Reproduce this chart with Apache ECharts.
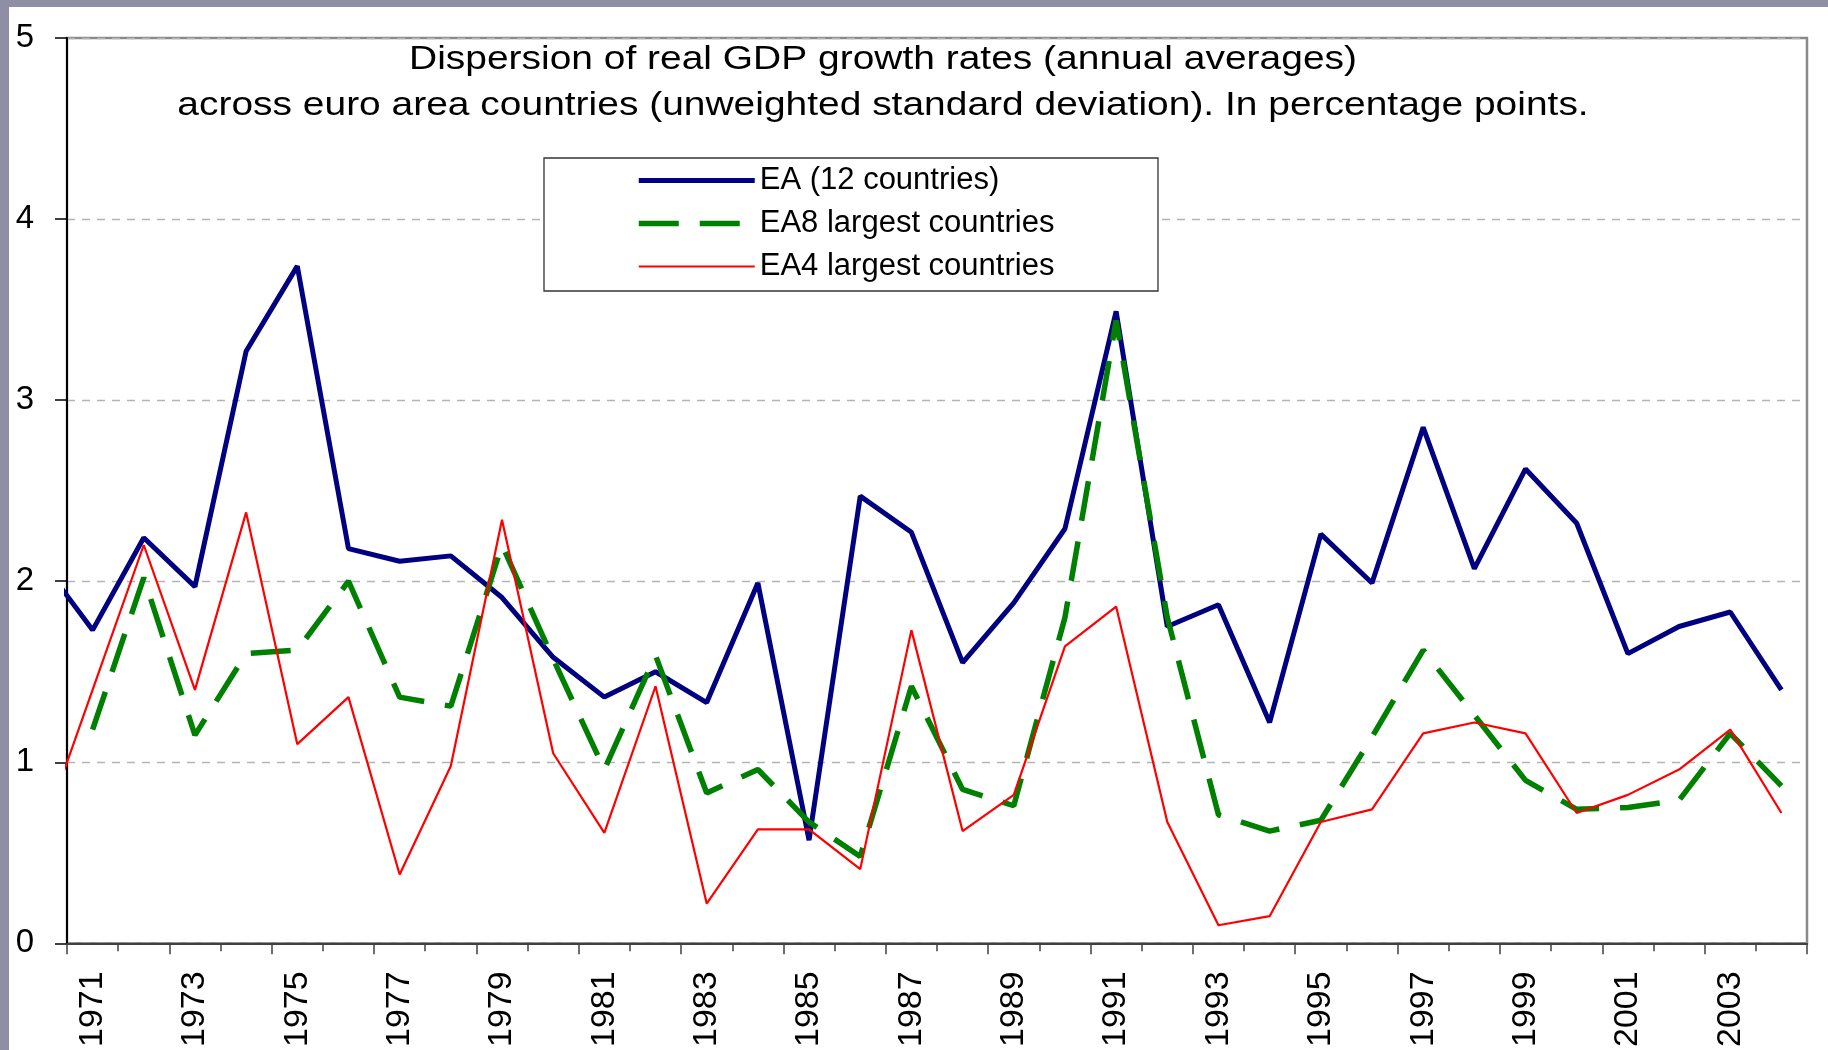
<!DOCTYPE html>
<html>
<head>
<meta charset="utf-8">
<script src="https://cdn.jsdelivr.net/npm/echarts@6/dist/echarts.min.js"></script>
<style>
  html, body { margin: 0; padding: 0; background: #8e8ea4; overflow: hidden; }
  #wrap { position: relative; width: 1828px; height: 1050px; }
  #paper { position: absolute; left: 9px; top: 7px; right: 0; bottom: 0; background: #fff; }
  #chart { position: absolute; left: 0; top: 0; width: 1828px; height: 1050px; }
</style>
</head>
<body>
<div id="wrap">
  <div id="paper"></div>
  <div id="chart"></div>
</div>
<script>
// years of the data (1970 sits just left of the plot and is clipped)
const years = [1970, 1971, 1972, 1973, 1974, 1975, 1976, 1977, 1978, 1979,
  1980, 1981, 1982, 1983, 1984, 1985, 1986, 1987, 1988, 1989,
  1990, 1991, 1992, 1993, 1994, 1995, 1996, 1997, 1998, 1999,
  2000, 2001, 2002, 2003, 2004]
// category labels on the axis
const yearLabels = years.slice(1).map(String)

const ea12 = [2.11, 1.73, 2.24, 1.97, 3.27, 3.74, 2.18, 2.11, 2.14, 1.91,
  1.58, 1.36, 1.50, 1.33, 1.99, 0.57, 2.47, 2.27, 1.55, 1.88,
  2.29, 3.49, 1.75, 1.87, 1.22, 2.26, 1.99, 2.85, 2.07, 2.62,
  2.32, 1.60, 1.75, 1.83, 1.40]
const ea8 = [null, 1.18, 2.02, 1.15, 1.60, 1.62, 2.00, 1.36, 1.31, 2.20,
  1.57, 0.96, 1.59, 0.83, 0.96, 0.67, 0.48, 1.42, 0.85, 0.76,
  1.80, 3.44, 1.80, 0.71, 0.62, 0.68, 1.14, 1.62, 1.26, 0.90,
  0.74, 0.75, 0.79, 1.16, 0.87]
const ea4 = [0.60, 1.40, 2.20, 1.40, 2.38, 1.10, 1.36, 0.38, 0.98, 2.34,
  1.05, 0.61, 1.42, 0.22, 0.63, 0.63, 0.41, 1.73, 0.62, 0.82,
  1.64, 1.86, 0.67, 0.10, 0.15, 0.67, 0.74, 1.16, 1.22, 1.16,
  0.72, 0.82, 0.96, 1.18, 0.72]

const seriesNames = ['EA (12 countries)', 'EA8 largest countries', 'EA4 largest countries']
const titleLines = [
  'Dispersion of real GDP growth rates (annual averages)',
  'across euro area countries (unweighted standard deviation). In percentage points.'
]

const font = "'Liberation Sans', Arial, sans-serif"
const toPairs = (vals) => years.map((y, i) => [y, vals[i]])

const chart = echarts.init(document.getElementById('chart'))

// title text is spread wider in the original
const titleText = (text, y) => ({
  type: 'text',
  x: 883,
  y: y,
  scaleX: 1.18,
  style: { text: text, font: '33px ' + font, fill: '#000', textAlign: 'center', textVerticalAlign: 'middle' }
})

const option = {
  backgroundColor: 'transparent',
  animation: false,
  textStyle: { fontFamily: font, color: '#000' },
  grid: {
    left: 67,
    right: 21,
    top: 38,
    bottom: 106,
    show: true,
    borderColor: '#8a8a8a',
    borderWidth: 2.5
  },
  graphic: [
    {
      type: 'rect',
      z: 3,
      shape: { x: 544, y: 158, width: 614, height: 133 },
      style: { fill: '#fff', stroke: '#333', lineWidth: 1.3 }
    },
    titleText(titleLines[0], 60),
    titleText(titleLines[1], 106)
  ],
  legend: {
    orient: 'vertical',
    left: 636,
    top: 165,
    padding: 0,
    itemWidth: 116,
    itemHeight: 14,
    itemGap: 12,
    data: seriesNames,
    itemStyle: { opacity: 0 },
    lineStyle: { width: 'inherit' },
    textStyle: { fontSize: 31, fontFamily: font, color: '#000', lineHeight: 30 }
  },
  xAxis: [
    {
      type: 'category',
      position: 'bottom',
      data: yearLabels,
      boundaryGap: true,
      axisLine: { show: true, lineStyle: { color: '#404040', width: 2 } },
      axisTick: { show: true, interval: 0, length: 8, lineStyle: { color: '#404040', width: 1.5 } },
      axisLabel: { interval: 1, rotate: 90, fontSize: 34, margin: 28, color: '#000', fontFamily: font },
      splitLine: { show: false }
    },
    {
      type: 'category',
      position: 'bottom',
      data: yearLabels,
      boundaryGap: true,
      axisLine: { show: false },
      axisTick: { show: true, interval: 1, length: 11, lineStyle: { color: '#404040', width: 1.5 } },
      axisLabel: { show: false },
      splitLine: { show: false }
    },
    {
      type: 'value',
      show: false,
      min: 1970.5,
      max: 2004.5
    }
  ],
  yAxis: {
    type: 'value',
    min: 0,
    max: 5,
    interval: 1,
    axisLine: { show: true, lineStyle: { color: '#000', width: 2 } },
    axisTick: { show: true, length: 12, lineStyle: { color: '#000', width: 1.5 } },
    axisLabel: { fontSize: 33, margin: 33, color: '#000', fontFamily: font },
    splitLine: { show: true, lineStyle: { color: '#b4b4b4', width: 1.3, type: [8, 7] } }
  },
  series: [
    {
      name: seriesNames[0],
      type: 'line',
      xAxisIndex: 2,
      symbol: 'none',
      clip: true,
      lineStyle: { color: '#000080', width: 5 },
      itemStyle: { color: '#000080' },
      data: toPairs(ea12)
    },
    {
      name: seriesNames[1],
      type: 'line',
      xAxisIndex: 2,
      symbol: 'none',
      clip: true,
      lineStyle: { color: '#008000', width: 5.5, type: [40, 21], cap: 'butt' },
      itemStyle: { color: '#008000' },
      data: toPairs(ea8)
    },
    {
      name: seriesNames[2],
      type: 'line',
      xAxisIndex: 2,
      symbol: 'none',
      clip: true,
      lineStyle: { color: '#ff0000', width: 2.2 },
      itemStyle: { color: '#ff0000' },
      data: toPairs(ea4)
    }
  ]
}

chart.setOption(option)
</script>
</body>
</html>
